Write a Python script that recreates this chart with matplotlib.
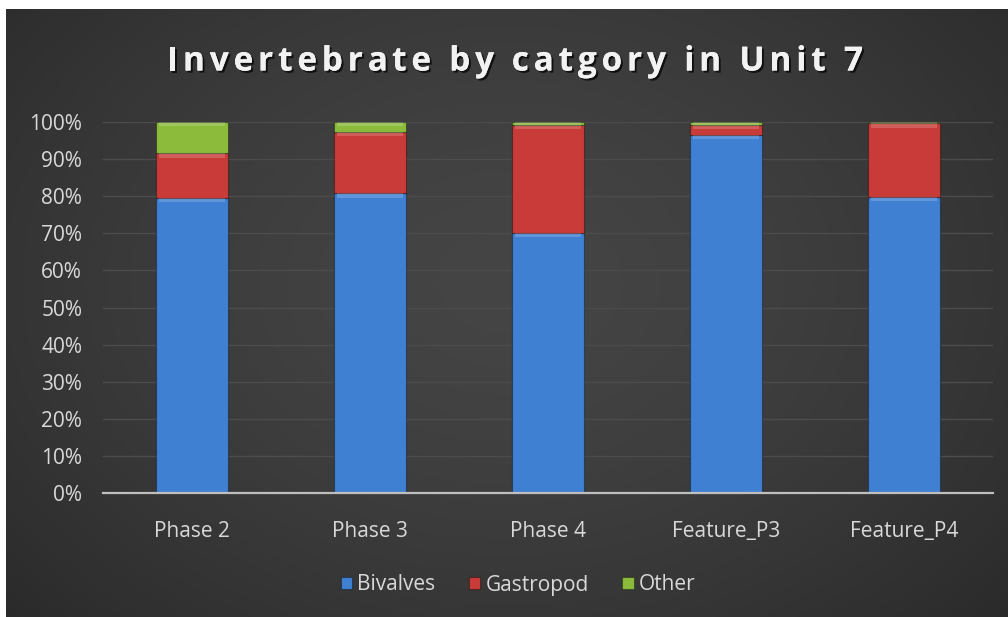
import numpy as np
import matplotlib
matplotlib.use("Agg")
import matplotlib.pyplot as plt
import matplotlib.patheffects as pe
from matplotlib.font_manager import FontProperties
from matplotlib.ticker import PercentFormatter

categories = ["Phase 2", "Phase 3", "Phase 4", "Feature_P3", "Feature_P4"]
bivalves = [79.6, 80.8, 70.2, 96.5, 79.9]
gastropod = [12.0, 16.6, 29.0, 2.7, 19.7]
other = [8.4, 2.6, 0.8, 0.8, 0.4]

series = [("Bivalves", bivalves, "#3f80d2"),
          ("Gastropod", gastropod, "#c93b38"),
          ("Other", other, "#8cbb3c")]

title = "Invertebrate by catgory in Unit 7"
font = "Open Sans"
text_color = "#d9d9d9"
label_size = 15

W, H = 1008, 617
fig = plt.figure(figsize=(W / 100, H / 100), dpi=100, facecolor="white")

# dark chart area with a soft radial gradient
bg = fig.add_axes([6 / W, 0, 1 - 6 / W, 1 - 9 / H])
bg.set_axis_off()
yy, xx = np.mgrid[0:1:300j, 0:1:500j]
r = np.sqrt(((xx - 0.5) / 0.75) ** 2 + ((yy - 0.45) / 0.9) ** 2)
shade = 0.27 - 0.12 * np.clip(r, 0, 1) ** 1.5
bg.imshow(np.dstack([shade] * 3), aspect="auto", extent=[0, 1, 0, 1],
          interpolation="bicubic")
bg.set_xlim(0, 1)
bg.set_ylim(0, 1)

ax = fig.add_axes([103 / W, 1 - 493 / H, (993 - 103) / W, (493 - 122) / H])
ax.set_facecolor("none")

x = np.arange(len(categories))
width = 0.4
bottom = np.zeros(len(categories))
handles = []
for name, vals, color in series:
    vals = np.asarray(vals) / 100.0
    bars = ax.bar(x, vals, width, bottom=bottom, color=color,
                  edgecolor=matplotlib.colors.to_rgba("black", 0.35),
                  linewidth=0.8, zorder=3, label=name)
    # lighter bevel band along the top of each segment
    hl = np.minimum(vals, 0.012)
    ax.bar(x, hl, width * 0.94, bottom=bottom + vals - hl,
           color="white", alpha=0.18, linewidth=0, zorder=4)
    bottom += vals
    handles.append(bars)

ax.set_xlim(-0.5, len(categories) - 0.5)
ax.set_ylim(0, 1)
ax.set_yticks(np.linspace(0, 1, 11))
ax.yaxis.set_major_formatter(PercentFormatter(1.0, decimals=0))
ax.set_xticks(x)
ax.set_xticklabels(categories)
ax.grid(axis="y", color="#4c4c4c", linewidth=1.0, zorder=0)
ax.tick_params(axis="both", length=0, colors=text_color, labelsize=label_size)
ax.tick_params(axis="y", pad=15)
ax.tick_params(axis="x", pad=20)
for lbl in ax.get_xticklabels() + ax.get_yticklabels():
    lbl.set_fontfamily(font)
for side in ["top", "right", "left"]:
    ax.spines[side].set_visible(False)
ax.spines["bottom"].set_color("#bfbfbf")
ax.spines["bottom"].set_linewidth(1.6)
ax.spines["bottom"].set_zorder(5)

# letter-spaced title, placed one glyph at a time
title_prop = FontProperties(family="Open Sans", weight="bold", size=24)
tracking = 4.8  # extra pixels between glyphs
renderer = fig.canvas.get_renderer()
def text_width(s):
    if not s:
        return 0.0
    w, _, _ = renderer.get_text_width_height_descent(s, title_prop, ismath=False)
    return w
total = text_width(title) + tracking * (len(title) - 1)
x0 = 515 - total / 2
shadow = [pe.withSimplePatchShadow(offset=(1.5, -1.5), shadow_rgbFace="black",
                                   alpha=0.7), pe.Normal()]
for i, ch in enumerate(title):
    if ch == " ":
        continue
    px = x0 + text_width(title[:i]) + tracking * i
    fig.text(px / W, 1 - 62 / H, ch, ha="left", va="center",
             fontproperties=title_prop, color="#f2f2f2", path_effects=shadow)

leg = fig.legend(handles=handles, labels=[s[0] for s in series],
                 loc="center", bbox_to_anchor=(518 / W, 1 - 585 / H), ncol=3,
                 frameon=False, prop={"family": font, "size": label_size},
                 handlelength=0.55, handleheight=0.55, handletextpad=0.25,
                 columnspacing=1.6)
for t in leg.get_texts():
    t.set_color(text_color)

fig.savefig("out.png", dpi=100, facecolor="white")
